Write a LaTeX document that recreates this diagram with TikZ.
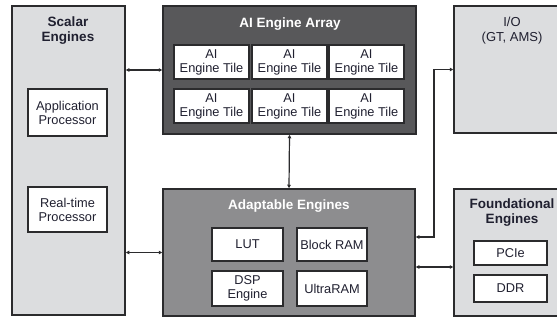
\documentclass[tikz,border=0pt]{standalone}
\usepackage{fontspec}
\setmainfont{Liberation Sans}
\usetikzlibrary{arrows.meta}
\definecolor{panel}{HTML}{DCDDDF}
\definecolor{darkpanel}{HTML}{58585A}
\definecolor{midpanel}{HTML}{8D8D8F}
\definecolor{edge}{HTML}{2B2B2D}
\definecolor{ink}{HTML}{202030}
\begin{document}
\begin{tikzpicture}[x=1pt,y=-1pt,
  outer/.style={draw=edge,line width=1.5pt,rectangle,inner sep=0pt,minimum width=#1},
  subbox/.style={draw=edge,line width=1.5pt,fill=white,rectangle,inner sep=0pt,
     align=center,text=ink,font=\fontsize{12.8}{14}\selectfont},
  ttl/.style={align=center,font=\bfseries\fontsize{13.5}{15}\selectfont},
  link/.style={line width=1.2pt,draw=edge,{Triangle[length=3.5pt,width=3.5pt]}-{Triangle[length=3.5pt,width=3.5pt]}}
]
\useasboundingbox (0,0) rectangle (557,320);

% ---- large blocks ----
\node[outer=113pt,minimum height=309pt,fill=panel] (scalar) at (68.5,160.5) {};
\node[outer=253pt,minimum height=128pt,fill=darkpanel] (ai) at (289.5,70) {};
\node[outer=116pt,minimum height=127pt,fill=panel] (io) at (512,69.5) {};
\node[outer=252pt,minimum height=127pt,fill=midpanel] (adapt) at (289,252.5) {};
\node[outer=116pt,minimum height=127pt,fill=panel] (found) at (512,252.5) {};

% ---- titles ----
\node[ttl,text=ink] (scalarT) at (68,30.5) {Scalar\\Engines};
\node[ttl,text=white] (aiT) at (290,24) {AI Engine Array};
\node[align=center,text=ink,font=\fontsize{13}{15}\selectfont] (ioT) at (512,30.5) {I/O\\(GT, AMS)};
\node[ttl,text=white] (adaptT) at (289,206) {Adaptable Engines};
\node[ttl,text=ink] (foundT) at (512,212.5) {Foundational\\Engines};

% ---- scalar engines contents ----
\node[subbox,minimum width=79pt,minimum height=47pt] (app) at (67.5,112.5) {Application\\Processor};
\node[subbox,minimum width=79pt,minimum height=45pt] (rt) at (67.5,209.5) {Real-time\\Processor};

% ---- AI engine tiles ----
\foreach \c/\x in {1/211.5,2/289.5,3/366.5}
  \foreach \r/\y in {1/62,2/106}
    \node[subbox,minimum width=75pt,minimum height=34pt] (tile\r\c) at (\x,\y) {AI\\Engine Tile};

% ---- adaptable engines contents ----
\node[subbox,minimum width=71pt,minimum height=33pt] (lut) at (247.5,244.5) {LUT};
\node[subbox,minimum width=70pt,minimum height=33pt] (bram) at (332,244.5) {Block RAM};
\node[subbox,minimum width=71pt,minimum height=35pt] (dsp) at (247.5,288.5) {DSP\\Engine};
\node[subbox,minimum width=70pt,minimum height=35pt] (uram) at (332,288.5) {UltraRAM};

% ---- foundational engines contents ----
\node[subbox,minimum width=73pt,minimum height=24pt] (pcie) at (510.5,253) {PCIe};
\node[subbox,minimum width=73pt,minimum height=27pt] (ddr) at (510.5,288.5) {DDR};

% ---- connections ----
\coordinate (jog) at (434,237);
\coordinate (flow) at (434,267);
\draw[link] (scalar.east |- ai.west) -- (ai.west);
\draw[link] (scalar.east |- adapt.west) -- (adapt.west);
\draw[link] (ai.south) -- (adapt.north);
\draw[link] (adapt.east |- jog) -- (jog) |- (io.west);
\draw[link] (adapt.east |- flow) -- (found.west |- flow);
\end{tikzpicture}
\end{document}
